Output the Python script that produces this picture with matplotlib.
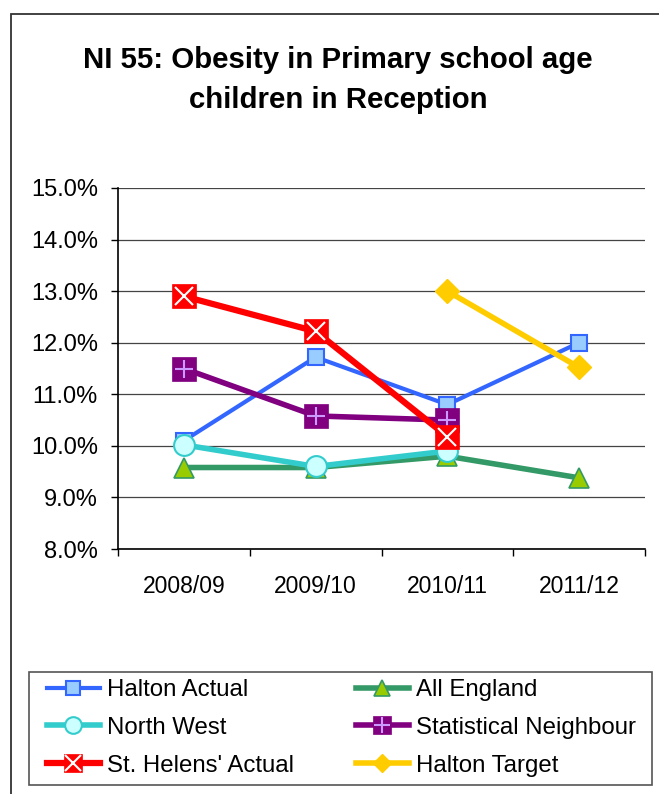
import numpy as np
import matplotlib
matplotlib.use("Agg")
import matplotlib.pyplot as plt
from matplotlib.patches import Rectangle
from matplotlib.ticker import FuncFormatter, FixedLocator
from matplotlib.legend_handler import HandlerTuple

plt.rcParams['font.family'] = ['Liberation Sans', 'DejaVu Sans']

categories = ["2008/09", "2009/10", "2010/11", "2011/12"]
halton_actual = [10.1, 11.72, 10.8, 12.0]
all_england = [9.58, 9.58, 9.8, 9.38]
north_west = [10.02, 9.6, 9.9, np.nan]
stat_neighbour = [11.5, 10.58, 10.5, np.nan]
st_helens = [12.9, 12.22, 10.18, np.nan]
halton_target = [np.nan, np.nan, 13.0, 11.52]

W, H = 659, 794
fig = plt.figure(figsize=(W / 100, H / 100), dpi=100)

# outer frame
fig.patches.append(Rectangle((11 / W, -0.05), 1.1, 1 - 14 / H + 0.05,
                             transform=fig.transFigure, fill=False,
                             edgecolor='#333333', linewidth=1.3))
# legend frame
fig.patches.append(Rectangle((29 / W, 1 - 785 / H), (652 - 29) / W, (785 - 672) / H,
                             transform=fig.transFigure, fill=False,
                             edgecolor='#555555', linewidth=1.2))

ax = fig.add_axes([118 / W, 1 - 549 / H, (645 - 118) / W, (549 - 188) / H])
x = np.arange(len(categories))

series = [
    dict(y=halton_actual, label="Halton Actual", color='#3366FF', lw=3.0,
         marker='s', ms=12, mfc='#99CCFF', mec='#3366FF', mew=1.5),
    dict(y=all_england, label="All England", color='#339966', lw=4.0,
         marker='^', ms=15, mfc='#99CC00', mec='#339966', mew=1.2),
    dict(y=north_west, label="North West", color='#33CCCC', lw=4.0,
         marker='o', ms=15, mfc='#CCFFFF', mec='#33CCCC', mew=1.5),
    dict(y=stat_neighbour, label="Statistical Neighbour", color='#800080', lw=4.0,
         marker='s', ms=17, mfc='#800080', mec='#800080', mew=0.5,
         inner='+', inner_color='#CC99FF'),
    dict(y=st_helens, label="St. Helens' Actual", color='#FF0000', lw=4.5,
         marker='s', ms=17, mfc='#FF0000', mec='#FF0000', mew=0.5,
         inner='x', inner_color='white'),
    dict(y=halton_target, label="Halton Target", color='#FFCC00', lw=4.0,
         marker='D', ms=12, mfc='#FFCC00', mec='#FFCC00', mew=1.0),
]

handles = {}
for i, s in enumerate(series):
    z = 3 + i * 2
    ln, = ax.plot(x, s['y'], color=s['color'], lw=s['lw'], marker=s['marker'],
                  ms=s['ms'], mfc=s['mfc'], mec=s['mec'], mew=s['mew'],
                  zorder=z, label=s['label'], clip_on=False)
    h = ln
    if 'inner' in s:
        inn, = ax.plot(x, s['y'], linestyle='none', marker=s['inner'], ms=s['ms'] * 0.8,
                       mec=s['inner_color'], mew=1.5, zorder=z + 1, clip_on=False)
        h = (ln, inn)
    handles[s['label']] = h

ax.set_xlim(-0.5, 3.5)
ax.set_ylim(8.0, 15.0)
ax.yaxis.set_major_locator(FixedLocator(np.arange(8.0, 15.01, 1.0)))
ax.yaxis.set_major_formatter(FuncFormatter(lambda v, p: f"{v:.1f}%"))
ax.grid(axis='y', color='#444444', linewidth=0.9, zorder=0)
ax.set_axisbelow(True)

ax.set_xticks(x)
ax.set_xticklabels(categories)
ax.set_xticks(np.arange(-0.5, 3.51, 1.0), minor=True)
ax.tick_params(axis='x', which='major', length=0, pad=18.5, labelsize=16.5)
ax.tick_params(axis='x', which='minor', length=5, width=1, direction='out')
ax.tick_params(axis='y', length=5, width=1, direction='out', pad=9.5, labelsize=17)

for side in ['top', 'right']:
    ax.spines[side].set_visible(False)
for side in ['left', 'bottom']:
    ax.spines[side].set_color('black')
    ax.spines[side].set_linewidth(1.2)

fig.text(338 / W, 1 - 60 / H, "NI 55: Obesity in Primary school age",
         ha='center', va='center', fontsize=21.2, fontweight='bold')
fig.text(338 / W, 1 - 100 / H, "children in Reception",
         ha='center', va='center', fontsize=21.2, fontweight='bold')

cols = [(["Halton Actual", "North West", "St. Helens' Actual"], 47),
        (["All England", "Statistical Neighbour", "Halton Target"], 356)]
for labels, xl in cols:
    fig.legend([handles[k] for k in labels], labels, ncol=1,
               loc='upper left', bbox_to_anchor=(xl / W, 1 - 679 / H),
               fontsize=17.3, frameon=False, handlelength=2.2, handletextpad=0.3,
               labelspacing=0.66, borderpad=0, borderaxespad=0, markerscale=0.8,
               handler_map={tuple: HandlerTuple(ndivide=1, pad=0)})

fig.savefig("out.png", dpi=100)
